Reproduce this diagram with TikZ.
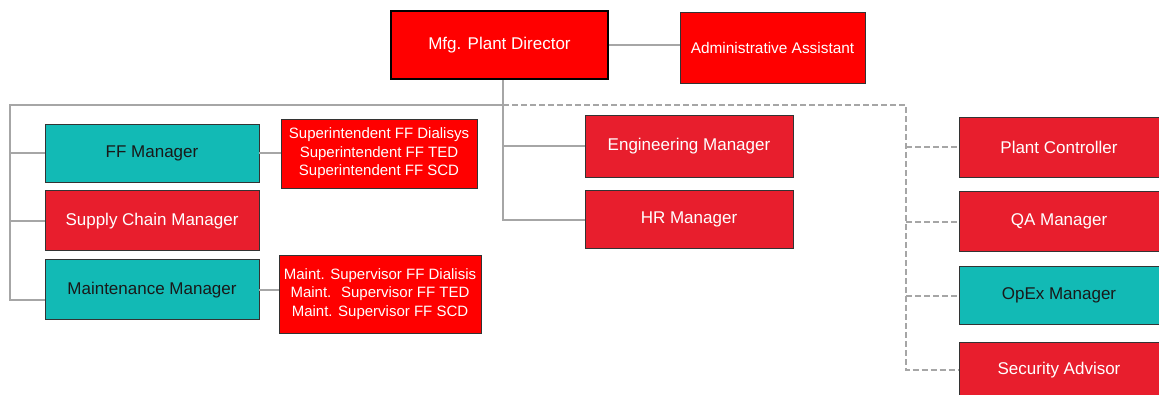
\documentclass[tikz,border=0pt]{standalone}
\usepackage{fontspec}
\setmainfont{Liberation Sans}
\usetikzlibrary{positioning}
\definecolor{orgred}{HTML}{E81E2D}
\definecolor{orgbright}{HTML}{FF0000}
\definecolor{orgteal}{HTML}{12BAB5}
\definecolor{orgline}{HTML}{A6A6A6}
\tikzset{
  box/.style     ={draw=black!80,line width=0.8pt,align=center,inner sep=0pt,font=\fontsize{17}{20}\selectfont},
  redbox/.style  ={box,fill=orgred,text=white},
  tealbox/.style ={box,fill=orgteal,text=black!90},
  subbox/.style  ={box,fill=orgbright,text=white,font=\fontsize{15}{18.5}\selectfont},
  dirbox/.style  ={box,fill=orgbright,text=white,draw=black,line width=2.5pt},
  link/.style    ={draw=orgline,line width=2pt},
  dashlink/.style={link,dash pattern=on 6pt off 3pt}
}

\begin{document}
\begin{tikzpicture}[x=1pt,y=-1pt,node distance=8pt]
    \useasboundingbox (0,0) rectangle (1159,394);
    % top
    \node[dirbox,minimum width=217pt,minimum height=68pt] (dir) at (499.5,45) {Mfg. Plant Director};
    \node[redbox,fill=orgbright,font=\fontsize{15.4}{18}\selectfont,minimum width=185pt,minimum height=71pt] (adm) at (772.5,47.5) {Administrative Assistant};
    % left column
    \node[tealbox,minimum width=214pt,minimum height=58pt] (ff) at (152,153) {FF Manager};
    \node[redbox,minimum width=214pt,minimum height=60pt,below=of ff] (scm) {Supply Chain Manager};
    \node[tealbox,minimum width=214pt,minimum height=60pt,below=of scm] (mm) {Maintenance Manager};
    \node[subbox,minimum width=196pt,minimum height=69pt] (sup) at (379,153.5) {Superintendent FF Dialisys\\Superintendent FF TED\\Superintendent FF SCD};
    \node[subbox,minimum width=202pt,minimum height=78pt] (msup) at (380,294) {Maint. Supervisor FF Dialisis\\Maint.~ Supervisor FF TED\\Maint. Supervisor FF SCD};
    % middle column
    \node[redbox,minimum width=208pt,minimum height=62pt] (eng) at (689,146) {Engineering Manager};
    \node[redbox,minimum width=208pt,minimum height=58pt,below=13pt of eng] (hr) {HR Manager};
    % right column
    \node[redbox,minimum width=200pt,minimum height=60pt] (pc) at (1059,147) {Plant Controller};
    \node[redbox,minimum width=200pt,minimum height=60pt,below=14pt of pc] (qa) {QA Manager};
    \node[tealbox,minimum width=200pt,minimum height=58pt,below=14pt of qa] (opex) {OpEx Manager};
    \node[redbox,minimum width=200pt,minimum height=56pt,below=17pt of opex] (sec) {Security Advisor};
    \coordinate (split) at (503,105);
    \coordinate (lbus) at (10,105);
    \coordinate (rbus) at (906,105);
    \coordinate (mmin) at ([yshift=-10pt]mm.west);
    \draw[link] (dir.east) -- (dir.east -| adm.west);
    \draw[link] (dir.south -| split) -- (split |- hr.west) -- (hr.west);
    \draw[link] (split |- eng.west) -- (eng.west);
    \draw[link] (split) -- (lbus) -- (lbus |- mmin) -- (mmin);
    \draw[link] (lbus |- ff.west) -- (ff.west);
    \draw[link] (lbus |- scm.west) -- (scm.west);
    \draw[link] (ff.east) -- (ff.east -| sup.west);
    \draw[link] (mm.east) -- (mm.east -| msup.west);
    \draw[dashlink] (split) -- (rbus) -- (rbus |- sec.west) -- (sec.west);
    \draw[dashlink] (rbus |- pc.west) -- (pc.west);
    \draw[dashlink] (rbus |- qa.west) -- (qa.west);
    \draw[dashlink] (rbus |- opex.west) -- (opex.west);
  \end{tikzpicture}
\end{document}
